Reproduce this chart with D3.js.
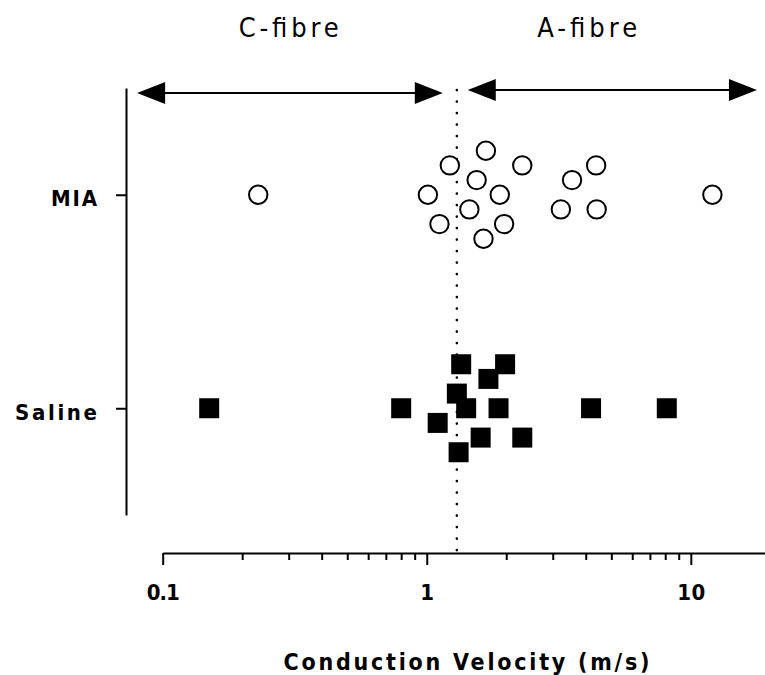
<!DOCTYPE html>
<html>
<head>
<meta charset="utf-8">
<script src="https://cdn.jsdelivr.net/npm/d3@7"></script>
<style>
  body { margin: 0; background: #fff; }
  svg { display: block; }
  text { font-family: "Liberation Sans Narrow", "Arial Narrow", "DejaVu Sans Condensed", sans-serif; fill: #000; }
</style>
</head>
<body>
<div id="chart"></div>
<script>
// data
var groups = ["MIA", "Saline"];
var miaVelocity = [0.23, 1.675, 1.223, 2.30, 4.38, 1.545, 3.55, 1.01, 1.89, 12.07, 1.45, 3.22, 4.40, 1.117, 1.963, 1.64];
var miaRow      = [0, -3, -2, -2, -2, -1, -1, 0, 0, 0, 1, 1, 1, 2, 2, 3];
var salineVelocity = [0.150, 0.80, 1.35, 1.98, 1.712, 1.30, 1.41, 1.87, 4.19, 8.11, 1.10, 1.60, 2.30, 1.32];
var salineRow      = [0, 0, -3, -3, -2, -1, 0, 0, 0, 0, 1, 2, 2, 3];
var majorTicks = [0.1, 1, 10];
var minorTicks = [0.2, 0.3, 0.4, 0.5, 0.6, 0.7, 0.8, 0.9, 2, 3, 4, 5, 6, 7, 8, 9];
var threshold = 1.3;
var fibreLabels = ["C-fibre", "A-fibre"];
var fibreLabelAt = [0.30, 4.05];
var fibreRanges = [[0.08, 1.15], [1.43, 17.8]];

drawChart();

function drawChart() {
  var width = 765, height = 675;
  var svg = d3.select("#chart").append("svg")
      .attr("width", width).attr("height", height);

  // scales
  var x = d3.scaleLog().domain([0.1, 20]).range([162.7, 770.3]);
  var y = d3.scaleLinear().domain([-0.5, 1.5]).range([88, 515]);
  var jitter = d3.scaleLinear().domain([-3, 3]).range([-44, 44]);
  var axisY = 553;

  // x axis, minor ticks first
  svg.append("g")
      .attr("transform", "translate(0," + axisY + ")")
      .call(d3.axisBottom(x).tickValues(minorTicks).tickSize(7).tickSizeOuter(0).tickFormat(""))
      .call(function(g) { g.select(".domain").remove(); });
  var xAxis = svg.append("g")
      .attr("class", "x-axis")
      .attr("transform", "translate(0," + axisY + ")")
      .call(d3.axisBottom(x).tickValues(majorTicks).tickSize(12).tickSizeOuter(0).tickFormat(d3.format("")));
  svg.selectAll(".tick line, .domain").attr("stroke", "#000").attr("stroke-width", 2);
  xAxis.selectAll(".tick text")
      .attr("y", 47).attr("dy", null)
      .style("font-size", "22px").style("font-weight", "bold")
      .each(function(d) {
        if (d === 0.1) d3.select(this).attr("textLength", 33).attr("lengthAdjust", "spacing");
        if (d === 10) d3.select(this).attr("textLength", 28).attr("lengthAdjust", "spacing");
      });

  svg.append("text")
      .attr("x", (x.range()[0] + x.range()[1]) / 2)
      .attr("y", 670)
      .attr("text-anchor", "middle")
      .attr("textLength", 366).attr("lengthAdjust", "spacing")
      .style("font-size", "23px").style("font-weight", "bold")
      .text("Conduction Velocity (m/s)");

  // y axis
  var yAxis = svg.append("g")
      .attr("transform", "translate(126,0)")
      .call(d3.axisLeft(y).tickValues([0, 1]).tickSize(10).tickSizeOuter(0).tickPadding(19)
        .tickFormat(function(i) { return groups[i]; }));
  yAxis.selectAll(".tick line, .domain").attr("stroke", "#000").attr("stroke-width", 2);
  yAxis.selectAll(".tick text")
      .attr("dy", "0.5em")
      .style("font-size", "22px").style("font-weight", "bold")
      .attr("lengthAdjust", "spacing")
      .attr("textLength", function(i) { return i === 0 ? 46 : 82; });

  // dotted threshold
  svg.append("line")
      .attr("x1", x(threshold)).attr("x2", x(threshold))
      .attr("y1", 90).attr("y2", axisY)
      .attr("stroke", "#000").attr("stroke-width", 2.6)
      .attr("stroke-linecap", "round")
      .attr("stroke-dasharray", "0.1,11.4");

  // fibre arrows
  var arrowY = [93, 90];
  var head = 28, half = 11;
  fibreRanges.forEach(function(r, i) {
    var x0 = x(r[0]), x1 = x(r[1]), yy = arrowY[i];
    svg.append("line")
        .attr("x1", x0 + head - 2).attr("x2", x1 - head + 2)
        .attr("y1", yy).attr("y2", yy)
        .attr("stroke", "#000").attr("stroke-width", 2);
    svg.append("path")
        .attr("d", "M" + x0 + "," + yy + "L" + (x0 + head) + "," + (yy - half) + "L" + (x0 + head) + "," + (yy + half) + "Z")
        .attr("fill", "#000");
    svg.append("path")
        .attr("d", "M" + x1 + "," + yy + "L" + (x1 - head) + "," + (yy - half) + "L" + (x1 - head) + "," + (yy + half) + "Z")
        .attr("fill", "#000");
    svg.append("text")
        .attr("x", x(fibreLabelAt[i])).attr("y", 37)
        .attr("text-anchor", "middle")
        .attr("textLength", 100).attr("lengthAdjust", "spacing")
        .style("font-size", "27px")
        .text(fibreLabels[i]);
  });

  // MIA - open circles
  var mia = miaVelocity.map(function(v, i) { return {v: v, row: miaRow[i]}; });
  svg.selectAll("circle.mia")
      .data(mia)
    .enter().append("circle")
      .attr("class", "mia")
      .attr("cx", function(d) { return x(d.v); })
      .attr("cy", function(d) { return y(0) + jitter(d.row); })
      .attr("r", 9.2)
      .attr("fill", "#fff")
      .attr("stroke", "#000")
      .attr("stroke-width", 2);

  // Saline - filled squares
  var sal = salineVelocity.map(function(v, i) { return {v: v, row: salineRow[i]}; });
  var side = 20;
  svg.selectAll("rect.saline")
      .data(sal)
    .enter().append("rect")
      .attr("class", "saline")
      .attr("x", function(d) { return x(d.v) - side / 2; })
      .attr("y", function(d) { return y(1) + jitter(d.row) - side / 2; })
      .attr("width", side).attr("height", side)
      .attr("fill", "#000");
}
</script>
</body>
</html>
